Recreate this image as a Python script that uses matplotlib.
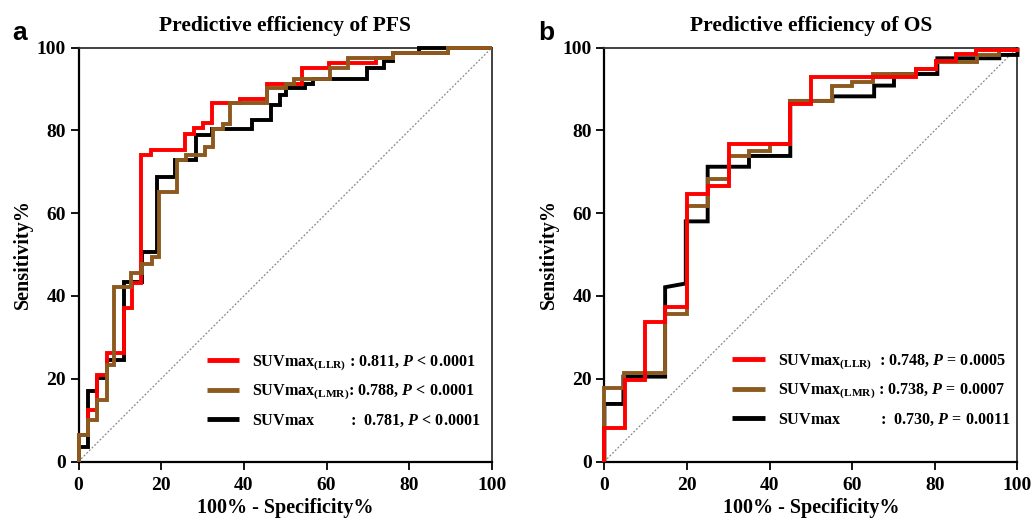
import matplotlib
matplotlib.use("Agg")
import matplotlib.pyplot as plt

# ---------------- data (ROC step vertices, % units) ----------------
# Panel a : PFS
pfs_llr_fpr = [0, 0, 2.2, 2.2, 4.4, 4.4, 6.8, 6.8, 11.1, 11.1, 13.0, 13.0, 15.1, 15.1, 17.5, 17.5,
               25.7, 25.7, 28.0, 28.0, 30.2, 30.2, 32.3, 32.3, 39.0, 39.0, 45.5, 45.5, 54.1, 54.1,
               60.7, 60.7, 72.0, 72.0, 76.0, 76.0, 89.3, 89.3, 100]
pfs_llr_tpr = [0, 6.4, 6.4, 12.4, 12.4, 20.9, 20.9, 26.1, 26.1, 37.0, 37.0, 43.0, 43.0, 74.0, 74.0, 75.2,
               75.2, 79.1, 79.1, 80.5, 80.5, 81.7, 81.7, 86.5, 86.5, 87.5, 87.5, 91.3, 91.3, 95.0,
               95.0, 96.2, 96.2, 97.4, 97.4, 98.6, 98.6, 100, 100]

pfs_lmr_fpr = [0, 0, 2.2, 2.2, 4.4, 4.4, 6.8, 6.8, 8.7, 8.7, 12.8, 12.8, 15.3, 15.3, 17.7, 17.7,
               19.5, 19.5, 23.9, 23.9, 26.1, 26.1, 30.6, 30.6, 32.6, 32.6, 34.9, 34.9, 36.6, 36.6,
               45.5, 45.5, 50.1, 50.1, 52.0, 52.0, 60.8, 60.8, 65.2, 65.2, 76.0, 76.0, 89.3, 89.3, 100]
pfs_lmr_tpr = [0, 6.4, 6.4, 10.0, 10.0, 14.9, 14.9, 23.3, 23.3, 42.1, 42.1, 45.5, 45.5, 47.7, 47.7, 49.3,
               49.3, 65.2, 65.2, 72.8, 72.8, 74.0, 74.0, 76.0, 76.0, 80.2, 80.2, 81.5, 81.5, 86.5,
               86.5, 90.1, 90.1, 91.3, 91.3, 92.3, 92.3, 95.0, 95.0, 97.4, 97.4, 98.6, 98.6, 100, 100]

pfs_suv_fpr = [0, 0, 2.2, 2.2, 4.4, 4.4, 6.8, 6.8, 11.1, 11.1, 15.3, 15.3, 19.1, 19.1, 23.3, 23.3,
               28.3, 28.3, 32.2, 32.2, 41.9, 41.9, 46.5, 46.5, 48.7, 48.7, 50.3, 50.3, 54.7, 54.7,
               56.7, 56.7, 69.8, 69.8, 73.9, 73.9, 76.0, 76.0, 82.4, 82.4, 100]
pfs_suv_tpr = [0, 3.6, 3.6, 17.0, 17.0, 20.1, 20.1, 24.5, 24.5, 43.4, 43.4, 50.7, 50.7, 68.8, 68.8, 72.8,
               72.8, 78.8, 78.8, 80.2, 80.2, 82.4, 82.4, 86.1, 86.1, 88.5, 88.5, 90.1, 90.1, 91.3,
               91.3, 92.3, 92.3, 95.0, 95.0, 96.8, 96.8, 98.6, 98.6, 100, 100]

# Panel b : OS
os_llr_fpr = [0, 0, 5.0, 5.0, 9.9, 9.9, 14.7, 14.7, 19.9, 19.9, 25.0, 25.0, 30.1, 30.1, 45.0, 45.0,
              50.1, 50.1, 75.4, 75.4, 80.2, 80.2, 85.1, 85.1, 89.9, 89.9, 100, 100]
os_llr_tpr = [0, 8.2, 8.2, 19.6, 19.6, 33.7, 33.7, 37.3, 37.3, 64.7, 64.7, 66.5, 66.5, 76.6, 76.6, 86.3,
              86.3, 92.8, 92.8, 94.8, 94.8, 96.8, 96.8, 98.5, 98.5, 99.5, 99.5, 100]

os_lmr_fpr = [0, 0, 4.8, 4.8, 14.7, 14.7, 19.9, 19.9, 25.0, 25.0, 30.1, 30.1, 35.0, 35.0, 40.2, 40.2,
              45.0, 45.0, 55.2, 55.2, 60.0, 60.0, 64.9, 64.9, 75.4, 75.4, 80.2, 80.2, 90.3, 90.3,
              95.6, 95.6, 100, 100]
os_lmr_tpr = [0, 17.8, 17.8, 21.3, 21.3, 35.6, 35.6, 61.7, 61.7, 68.3, 68.3, 73.8, 73.8, 75.0, 75.0, 76.6,
              76.6, 87.1, 87.1, 90.8, 90.8, 91.7, 91.7, 93.6, 93.6, 94.8, 94.8, 96.4, 96.4, 98.2,
              98.2, 99.5, 99.5, 100]

os_suv_fpr = [0, 0, 4.6, 4.6, 14.7, 14.7, 19.7, 19.7, 25.0, 25.0, 35.0, 35.0, 45.0, 45.0, 55.2, 55.2,
              65.3, 65.3, 70.1, 70.1, 80.6, 80.6, 95.6, 95.6, 100, 100]
os_suv_tpr = [0, 13.9, 13.9, 20.5, 20.5, 42.1, 43.0, 58.0, 58.0, 71.2, 71.2, 73.8, 73.8, 87.1, 87.1, 88.2,
              88.2, 90.8, 90.8, 93.6, 93.6, 97.4, 97.4, 98.2, 98.2, 100]

pfs_labels = [r"SUVmax$_{\mathrm{(LLR)}}$ : 0.811, $P$ < 0.0001",
              r"SUVmax$_{\mathrm{(LMR)}}$: 0.788, $P$ < 0.0001",
              r"SUVmax         :  0.781, $P$ < 0.0001"]
os_labels = [r"SUVmax$_{\mathrm{(LLR)}}$  : 0.748, $P$ = 0.0005",
             r"SUVmax$_{\mathrm{(LMR)}}$ : 0.738, $P$ = 0.0007",
             r"SUVmax          :  0.730, $P$ = 0.0011"]
titles = ["Predictive efficiency of PFS", "Predictive efficiency of OS"]
panel_letters = ["a", "b"]
ticks = [0, 20, 40, 60, 80, 100]

colors = {"llr": "#FF0000", "lmr": "#8C5A1E", "suv": "#000000"}

# ---------------- style ----------------
plt.rcParams["font.family"] = ["Liberation Serif", "DejaVu Serif"]
plt.rcParams["font.weight"] = "bold"
plt.rcParams["mathtext.fontset"] = "custom"
plt.rcParams["mathtext.rm"] = "Liberation Serif:bold"
plt.rcParams["mathtext.it"] = "Liberation Serif:italic:bold"
plt.rcParams["mathtext.bf"] = "Liberation Serif:bold"

fig = plt.figure(figsize=(10.35, 5.24), dpi=100)
W, H = 1035, 524
ax_a = fig.add_axes([78.5 / W, 1 - 461.5 / H, (492 - 78.5) / W, (461.5 - 47.5) / H])
ax_b = fig.add_axes([604.4 / W, 1 - 461.5 / H, (1017.5 - 604.4) / W, (461.5 - 47.5) / H])

panels = [
    (ax_a, [(pfs_suv_fpr, pfs_suv_tpr, "suv"), (pfs_llr_fpr, pfs_llr_tpr, "llr"), (pfs_lmr_fpr, pfs_lmr_tpr, "lmr")],
     pfs_labels, titles[0], panel_letters[0], (0.31, 0.17)),
    (ax_b, [(os_suv_fpr, os_suv_tpr, "suv"), (os_lmr_fpr, os_lmr_tpr, "lmr"), (os_llr_fpr, os_llr_tpr, "llr")],
     os_labels, titles[1], panel_letters[1], (0.31, 0.172)),
]

for ax, series, labels, title, letter, leg_pos in panels:
    ax.plot([0, 100], [0, 100], color="#888888", lw=0.9, ls=(0, (1.5, 1.5)), zorder=1)
    handles = {}
    for fx, ty, key in series:
        ln, = ax.plot(fx, ty, color=colors[key], lw=2.8, solid_joinstyle="miter",
                      solid_capstyle="butt", clip_on=False, zorder=3)
        handles[key] = ln
    ax.set_xlim(0, 100)
    ax.set_ylim(0, 100)
    ax.set_xticks(ticks)
    ax.set_yticks(ticks)
    ax.tick_params(axis="both", direction="out", length=6, width=1.3, labelsize=14, pad=3)
    ax.tick_params(axis="x", pad=5)
    for lab in ax.get_xticklabels() + ax.get_yticklabels():
        lab.set_fontweight("bold")
    for side in ["left", "bottom"]:
        ax.spines[side].set_linewidth(1.6)
    for side in ["top", "right"]:
        ax.spines[side].set_linewidth(1.3)
        ax.spines[side].set_color("#333333")
    ax.set_xlabel("100% - Specificity%", fontsize=14.5, fontweight="bold", labelpad=3)
    ax.set_ylabel("Sensitivity%", fontsize=14.5, fontweight="bold", labelpad=3)
    ax.set_title(title, fontsize=15.5, fontweight="bold", pad=12)
    leg = ax.legend([handles["llr"], handles["lmr"], handles["suv"]], labels,
                    loc="center left", bbox_to_anchor=leg_pos, frameon=False,
                    fontsize=11.6, handlelength=2.0, handletextpad=0.8,
                    labelspacing=0.65, borderpad=0, borderaxespad=0)
    for lh in leg.get_lines():
        lh.set_linewidth(3.5)
    ax.text(-0.16, 1.018, letter, transform=ax.transAxes, fontsize=19, fontweight="bold",
            family=["Liberation Sans", "DejaVu Sans"], ha="left", va="baseline")

fig.savefig("out.png", dpi=100)
